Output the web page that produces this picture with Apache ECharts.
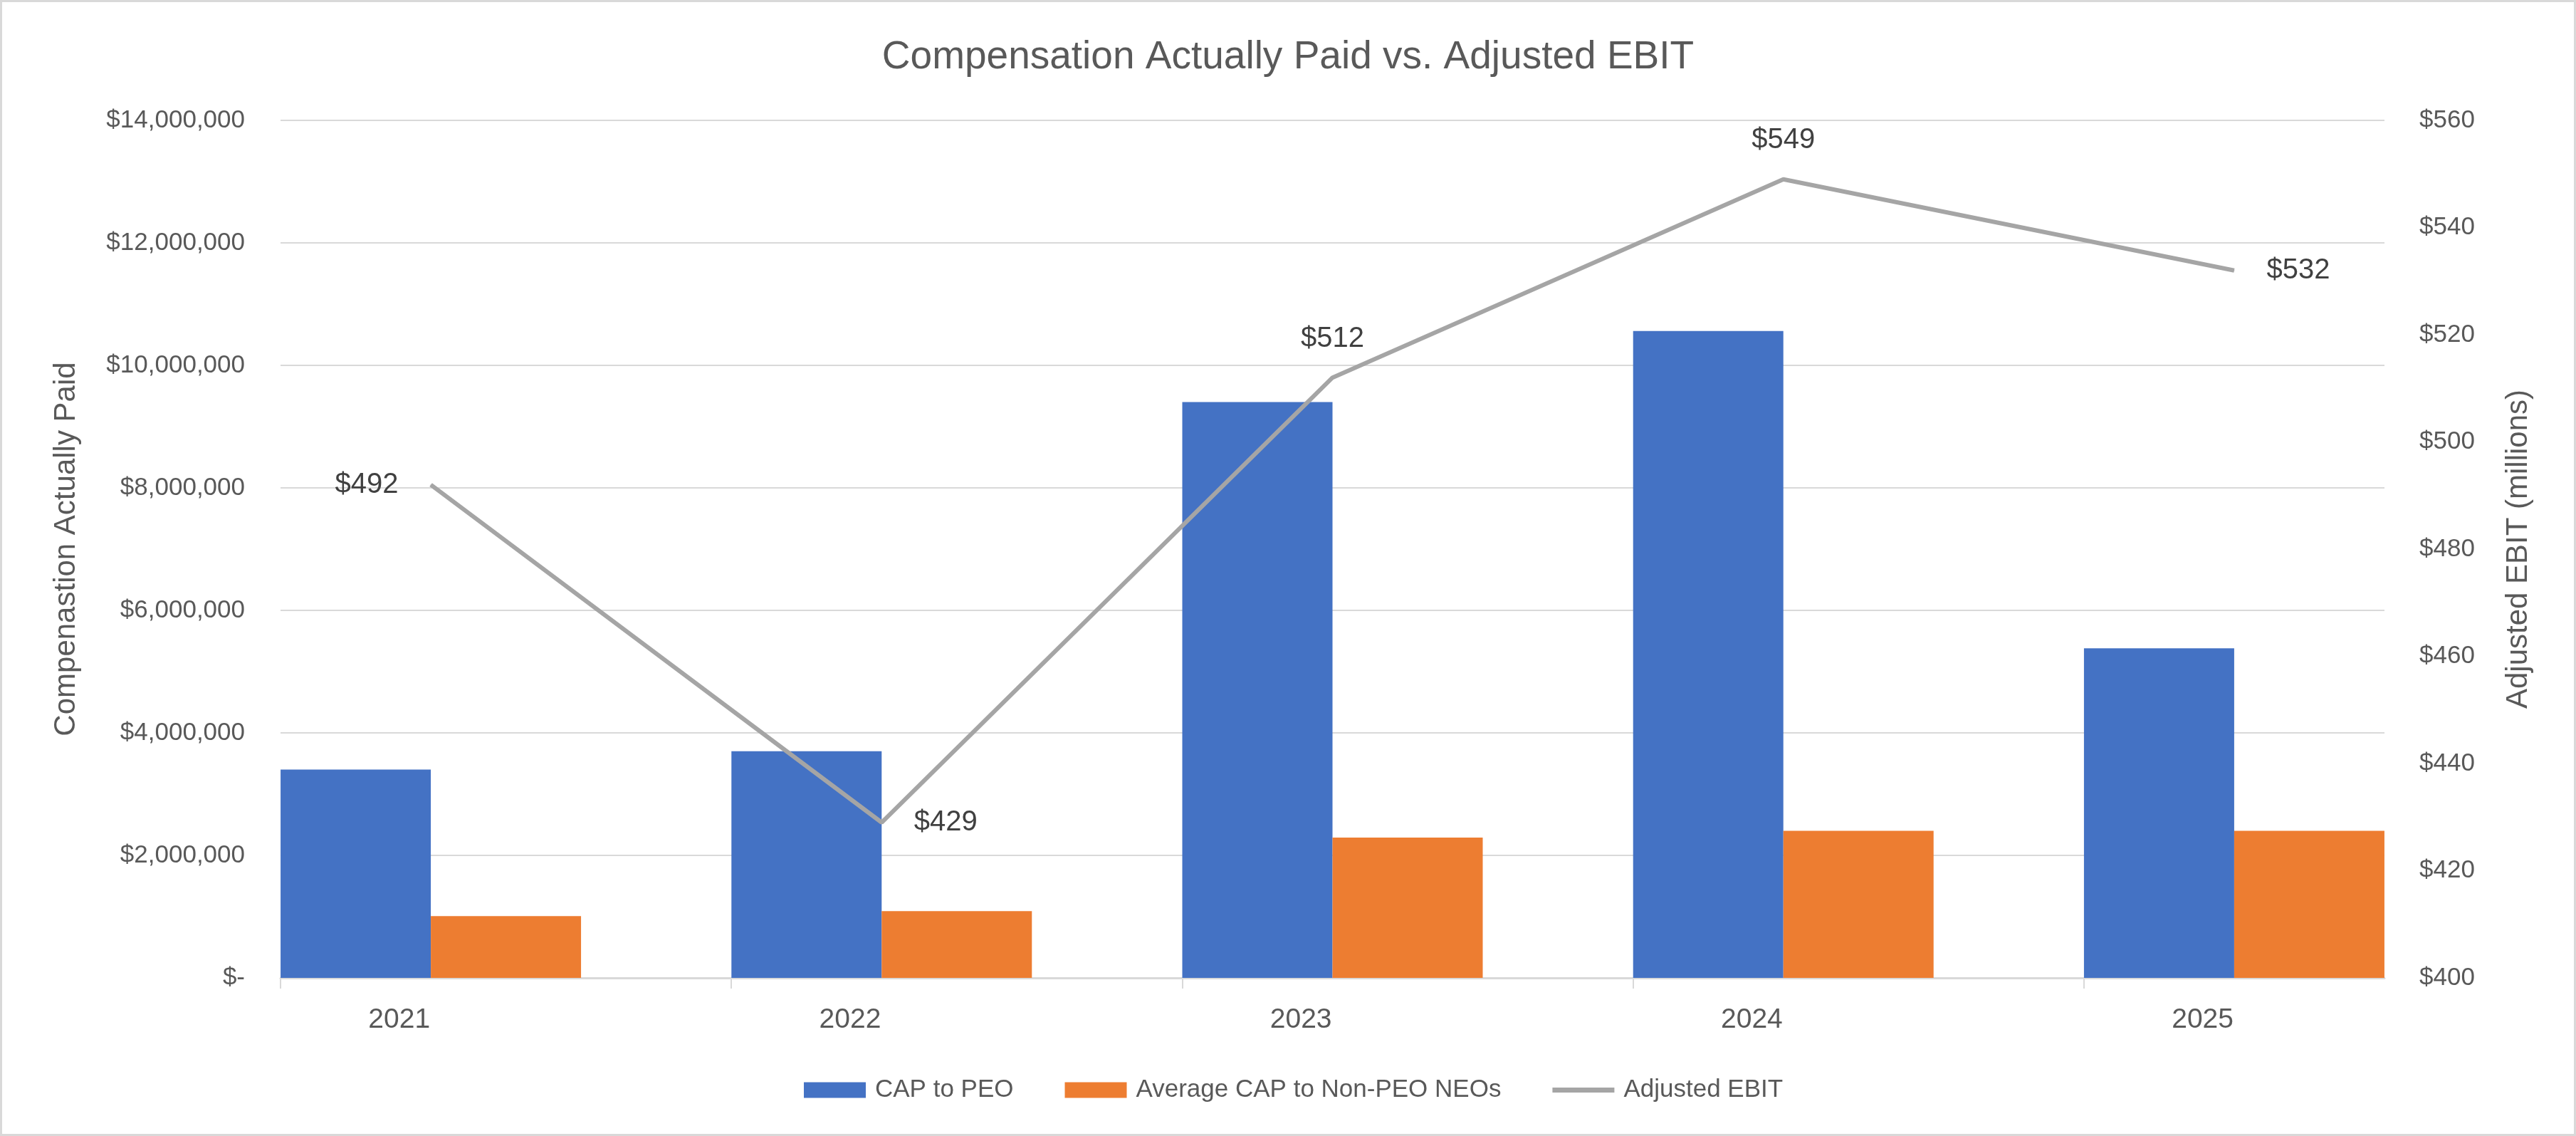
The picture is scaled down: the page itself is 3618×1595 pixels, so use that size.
<!DOCTYPE html>
<html>
<head>
<meta charset="utf-8">
<script src="https://cdn.jsdelivr.net/npm/echarts@6/dist/echarts.min.js"></script>
<style>
html,body{margin:0;padding:0;background:#fff;}
#wrap{position:relative;width:3618px;height:1595px;}
#chart{position:absolute;left:0;top:0;width:3618px;height:1595px;}
#frame{position:absolute;left:0;top:0;width:3618px;height:1595px;box-sizing:border-box;border:3px solid #d9d9d9;pointer-events:none;}
</style>
</head>
<body>
<div id="wrap"><div id="chart"></div><div id="frame"></div></div>
<script>
const years = [2021, 2022, 2023, 2024, 2025];
const yearLabels = ['2021', '2022', '2023', '2024', '2025'];
const capToPEO = [3400000, 3700000, 9400000, 10560000, 5380000];
const avgCapNonPEO = [1010000, 1090000, 2290000, 2400000, 2400000];
const adjustedEBIT = [492, 429, 512, 549, 532];
const ebitLabelPos = ['left', 'right', 'top', 'top', 'right'];
const leftTicks = { min: 0, max: 14000000, interval: 2000000 };
const rightTicks = { min: 400, max: 560, interval: 20 };

const FONT = '"Liberation Sans", Arial, sans-serif';
const chart = echarts.init(document.getElementById('chart'), null, { renderer: 'canvas' });

const pair = (arr) => arr.map((v, i) => [years[i], v]);

chart.setOption({
  animation: false,
  backgroundColor: '#ffffff',
  title: {
    text: 'Compensation Actually Paid vs. Adjusted EBIT',
    left: 'center',
    top: 48,
    textStyle: { fontFamily: FONT, fontSize: 55, fontWeight: 'normal', color: '#595959' }
  },
  grid: { left: 394, right: 269, top: 169, bottom: 222, containLabel: false },
  legend: {
    left: 1124,
    top: 1508,
    itemWidth: 87,
    itemHeight: 22,
    itemGap: 72,
    textStyle: { fontFamily: FONT, fontSize: 35, color: '#595959', padding: [0, 0, 0, 8] },
    data: [
      { name: 'CAP to PEO', icon: 'rect' },
      { name: 'Average CAP to Non-PEO NEOs', icon: 'rect' },
      { name: 'Adjusted EBIT', icon: 'path://M0,0 L100,0 L100,8 L0,8 Z', itemStyle: { color: '#A5A5A5' } }
    ]
  },
  xAxis: {
    type: 'value',
    min: years[0] - 1 / 3,
    max: years[years.length - 1] + 1 / 3,
    axisLine: { show: true, onZero: false, lineStyle: { color: '#d9d9d9', width: 3 } },
    axisTick: {
      show: true, length: 15,
      customValues: years.map(y => y - 1 / 3),
      lineStyle: { color: '#d9d9d9', width: 2 }
    },
    splitLine: { show: false },
    axisLabel: {
      customValues: years.map(y => y - 0.07),
      formatter: (v) => {
        const i = years.indexOf(Math.round(v));
        return i >= 0 ? yearLabels[i] : '';
      },
      margin: 40,
      fontFamily: FONT, fontSize: 39, color: '#595959'
    }
  },
  yAxis: [
    {
      type: 'value',
      min: leftTicks.min, max: leftTicks.max, interval: leftTicks.interval,
      name: 'Compenastion Actually Paid',
      nameLocation: 'middle',
      nameRotate: 90,
      nameGap: 280,
      nameTextStyle: { fontFamily: FONT, fontSize: 42, color: '#595959' },
      axisLine: { show: false },
      axisTick: { show: false },
      splitLine: { show: true, lineStyle: { color: '#d9d9d9', width: 2 } },
      axisLabel: {
        margin: 50,
        fontFamily: FONT, fontSize: 35, color: '#595959',
        formatter: (v) => v === 0 ? '$-' : '$' + v.toLocaleString('en-US')
      }
    },
    {
      type: 'value',
      position: 'right',
      min: rightTicks.min, max: rightTicks.max, interval: rightTicks.interval,
      name: 'Adjusted EBIT (millions)',
      nameLocation: 'middle',
      nameRotate: 90,
      nameGap: 167,
      nameTextStyle: { fontFamily: FONT, fontSize: 42, color: '#595959' },
      axisLine: { show: false },
      axisTick: { show: false },
      splitLine: { show: false },
      axisLabel: {
        margin: 49,
        fontFamily: FONT, fontSize: 35, color: '#595959',
        formatter: (v) => '$' + v
      }
    }
  ],
  series: [
    {
      name: 'CAP to PEO',
      type: 'bar',
      yAxisIndex: 0,
      barWidth: 211,
      barGap: '0%',
      itemStyle: { color: '#4472C4' },
      data: pair(capToPEO)
    },
    {
      name: 'Average CAP to Non-PEO NEOs',
      type: 'bar',
      yAxisIndex: 0,
      barWidth: 211,
      barGap: '0%',
      itemStyle: { color: '#ED7D31' },
      data: pair(avgCapNonPEO)
    },
    {
      name: 'Adjusted EBIT',
      type: 'line',
      yAxisIndex: 1,
      symbol: 'circle',
      symbolSize: 1,
      showSymbol: true,
      z: 5,
      lineStyle: { color: '#A5A5A5', width: 6 },
      itemStyle: { color: '#A5A5A5' },
      labelLayout: { hideOverlap: false },
      data: adjustedEBIT.map((v, i) => ({
        value: [years[i], v],
        label: {
          show: true,
          position: ebitLabelPos[i],
          distance: ebitLabelPos[i] === 'top' ? 34 : 45,
          formatter: '$' + v,
          fontFamily: FONT, fontSize: 40, color: '#404040'
        }
      }))
    }
  ]
});
</script>
</body>
</html>
